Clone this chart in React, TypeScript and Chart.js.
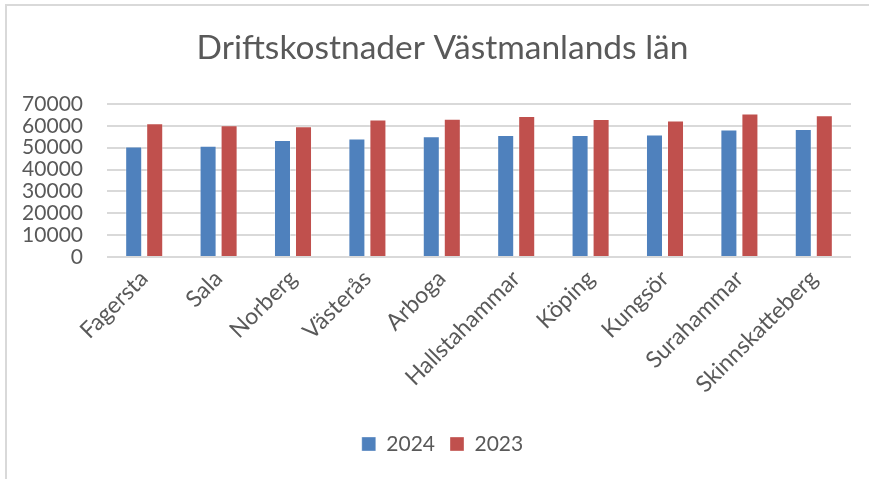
import React, { useEffect, useRef } from "react";
import { Chart, registerables } from "chart.js";

Chart.register(...registerables);

const categories = [
  "Fagersta",
  "Sala",
  "Norberg",
  "Västerås",
  "Arboga",
  "Hallstahammar",
  "Köping",
  "Kungsör",
  "Surahammar",
  "Skinnskatteberg",
];
const values2024 = [50500, 50900, 53500, 54200, 55200, 55800, 55800, 56000, 58300, 58600];
const values2023 = [61200, 60300, 59800, 62900, 63200, 64500, 63100, 62500, 65700, 64900];
const yTicks = [0, 10000, 20000, 30000, 40000, 50000, 60000, 70000];

const FONT = "Lato, 'Liberation Sans', sans-serif";
const TEXT = "#595959";
const PAD_LEFT = 16;

export default function App() {
  const ref = useRef<HTMLCanvasElement | null>(null);
  useEffect(() => {
    if (!ref.current) return;
    const chart = new Chart(ref.current, {
      type: "bar",
      data: {
        labels: categories,
        datasets: [
          {
            label: "2024",
            data: values2024,
            backgroundColor: "#4F81BD",
            borderColor: "rgba(255,255,255,0.35)",
            borderWidth: 1,
            categoryPercentage: 0.565,
            barPercentage: 0.81,
          },
          {
            label: "2023",
            data: values2023,
            backgroundColor: "#C0504D",
            borderColor: "rgba(255,255,255,0.35)",
            borderWidth: 1,
            categoryPercentage: 0.565,
            barPercentage: 0.81,
          },
        ],
      },
      options: {
        animation: false,
        responsive: false,
        maintainAspectRatio: false,
        layout: { padding: { left: PAD_LEFT, right: 0, top: 0, bottom: 14.5 } },
        plugins: {
          title: {
            display: true,
            text: "Driftskostnader Västmanlands län",
            color: TEXT,
            font: { family: FONT, size: 33.5, weight: "normal", lineHeight: 1.2 },
            padding: { top: 28.5, bottom: 35.3 },
          },
          legend: {
            position: "bottom",
            labels: {
              color: TEXT,
              font: { family: FONT, size: 21 },
              boxWidth: 14,
              boxHeight: 14,
              padding: 15,
            },
          },
          tooltip: { enabled: false },
        },
        scales: {
          x: {
            grid: { display: false, drawTicks: false },
            border: { display: false },
            ticks: {
              color: TEXT,
              font: { family: FONT, size: 23 },
              maxRotation: 45,
              minRotation: 45,
              autoSkip: false,
              padding: 8,
            },
            afterFit: (scale: any) => {
              scale.height = 161.5;
            },
          },
          y: {
            min: 0,
            max: 70000,
            afterBuildTicks: (scale: any) => {
              scale.ticks = yTicks.map((v) => ({ value: v }));
            },
            grid: { color: "#d9d9d9", lineWidth: 2, drawTicks: false },
            border: { display: false },
            ticks: {
              color: TEXT,
              font: { family: FONT, size: 21 },
              padding: 24,
              autoSkip: false,
              callback: (v: any) => String(v),
            },
            afterFit: (scale: any) => {
              scale.width = 107 - PAD_LEFT;
            },
          },
          spacer: {
            type: "linear",
            position: "right",
            display: true,
            grid: { display: false, drawTicks: false },
            border: { display: false },
            ticks: { display: false },
            afterFit: (scale: any) => {
              scale.width = 18;
            },
          },
        },
      },
    });
    return () => chart.destroy();
  }, []);
  return (
    <div style={{ position: "fixed", left: 0, top: 0, width: 869, height: 479, background: "#fff" }}>
      <div
        style={{
          position: "absolute",
          left: 5,
          top: 4,
          width: 880,
          height: 500,
          borderTop: "2px solid #d9d9d9",
          borderLeft: "2px solid #d9d9d9",
          boxSizing: "border-box",
        }}
      />
      <canvas ref={ref} width={869} height={479} style={{ position: "absolute", left: 0, top: 0, width: 869, height: 479 }} />
    </div>
  );
}
